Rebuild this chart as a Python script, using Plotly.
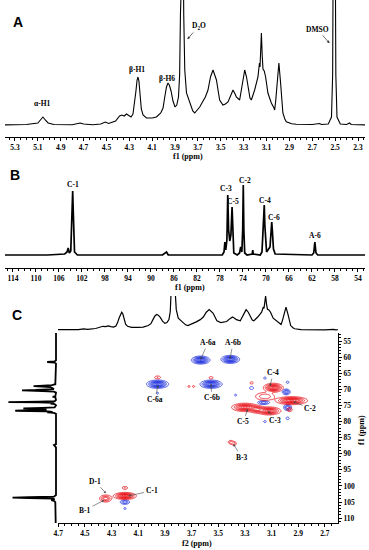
import numpy as np
import plotly.graph_objects as go

W, H = 369, 550

# ---------------- Panel A : 1H NMR ----------------
h1_ppm = [5.43, 5.20, 5.10, 5.075, 5.055, 5.035, 5.01, 4.96, 4.80, 4.73, 4.70, 4.62, 4.55, 4.51, 4.48,
          4.42, 4.385, 4.365, 4.345, 4.325, 4.305, 4.285, 4.268, 4.255, 4.243, 4.232, 4.224, 4.216,
          4.206, 4.195, 4.18, 4.15, 4.10, 4.063, 4.025, 4.005, 3.99, 3.975, 3.962, 3.950, 3.935,
          3.918, 3.90, 3.885, 3.87, 3.86, 3.853, 3.848, 3.830, 3.824, 3.815, 3.80, 3.772, 3.745,
          3.728, 3.705, 3.684, 3.665, 3.655, 3.635, 3.612, 3.59, 3.568, 3.55, 3.538, 3.52, 3.51,
          3.481, 3.46, 3.437, 3.415, 3.393, 3.375, 3.364, 3.335, 3.31, 3.291, 3.275, 3.262, 3.245,
          3.233, 3.204, 3.175, 3.168, 3.162, 3.157, 3.150, 3.145, 3.138, 3.131, 3.12, 3.108, 3.088,
          3.058, 3.035, 3.029, 3.02, 3.009, 2.992, 2.977, 2.965, 2.957, 2.94, 2.927, 2.88, 2.84,
          2.70, 2.636, 2.62, 2.56, 2.532, 2.522, 2.516, 2.500, 2.494, 2.484, 2.455, 2.40, 2.374,
          2.36, 2.20]
h1_int = [0, 0.5, 2, 5, 8, 5, 2, 0.5, 0.3, 2, 1, 0.3, 1, 3, 1.5,
          4, 9, 10, 9, 11, 9, 8, 11, 20, 33, 45, 48, 44,
          30, 16, 10, 7, 7, 8, 12, 17, 28, 38, 42, 40, 34,
          24, 18, 20, 28, 50, 110, 200, 200, 110, 55, 32, 22, 14,
          12, 15, 18, 22, 24, 28, 35, 48, 55, 50, 45, 32, 25,
          20, 21, 23, 30, 35, 31, 28, 25, 40, 55, 48, 37, 27,
          25, 35, 48, 60, 62, 58, 75, 92, 70, 56, 54, 48, 32,
          22, 17, 15, 24, 42, 62, 42, 25, 12, 6, 3.3, 1.2, 0.7,
          0.5, 1.5, 0.5, 1, 8, 50, 200, 200, 50, 8, 1, 0.5, 2,
          0.5, 0]
a_ticks = [5.3, 5.1, 4.9, 4.7, 4.5, 4.3, 4.1, 3.9, 3.7, 3.5, 3.3, 3.1, 2.9, 2.7, 2.5, 2.3]
a_lab_text = ["α-H1", "β-H1", "β-H6", "D<sub>2</sub>O", "DMSO"]
a_lab_x = [5.055, 4.235, 3.973, 3.693, 2.654]
a_lab_y = [22, 56, 47, 99, 95.7]
a_arr_x = [None, None, None, 3.792, 2.549]
a_arr_y = [None, None, None, 85.7, 81.7]

# ---------------- Panel B : 13C NMR ----------------
c13_ppm = [116.5, 108, 105.0, 104.6, 104.4, 104.2, 103.95, 103.75, 103.62, 103.5, 103.3, 102.8,
           95, 88, 87.3, 87.0, 80, 77.6, 77.3, 77.15, 77.0, 76.8, 76.65, 76.5, 76.3, 76.1, 75.9,
           75.75, 75.6, 75.0, 74.6, 74.4, 74.2, 74.05, 73.95, 73.85, 73.7, 73.3, 72.4, 72.3, 72.2,
           71.0, 70.7, 70.55, 70.4, 70.3, 70.2, 70.05, 69.9, 69.3, 69.1, 69.0, 68.9, 68.7, 68.4,
           62.0, 61.7, 61.5, 61.3, 61.0, 52]
c13_int = [0, 0, 1, 3, 7, 2, 4, 40, 64, 40, 3, 0,
           0, 0, 3, 0, 0, 0, 3, 13, 5, 15, 60, 25, 14, 20, 48,
           20, 2, 0, 2, 8, 3, 25, 70, 25, 2, 0, 1, 5, 1,
           0, 3, 20, 38, 50, 30, 8, 3, 8, 30, 33, 25, 6, 1,
           0, 2, 13, 2, 0, 0]
b_ticks = [114, 110, 106, 102, 98, 94, 90, 86, 82, 78, 74, 70, 66, 62, 58, 54]
b_lab_text = ["C-1", "C-3", "C-5", "C-2", "C-4", "C-6", "A-6"]
b_lab_x = [103.62, 76.96, 75.69, 73.65, 70.17, 68.61, 61.48]
b_lab_y = [71, 66.7, 53.3, 74.3, 54.3, 37.7, 20]

# ---------------- Panel C : HSQC cross peaks (f2, f1, half-widths, amplitude) ----------------
pos_f2 = [4.20, 4.345, 4.20, 3.087, 2.95, 3.30, 3.12, 3.21, 3.15, 3.25, 2.965, 3.955, 3.554, 3.72, 3.685, 3.407, 3.382]
pos_f1 = [103.1, 103.9, 100.6, 69.5, 73.5, 75.6, 76.7, 76.2, 72.2, 68.0, 76.3, 66.3, 66.4, 69.1, 69.1, 86.4, 86.8]
pos_w2 = [0.086, 0.045, 0.02, 0.075, 0.12, 0.10, 0.09, 0.06, 0.07, 0.012, 0.02, 0.022, 0.015, 0.008, 0.008, 0.018, 0.018]
pos_w1 = [1.1, 1.1, 0.45, 1.4, 1.25, 1.3, 1.25, 1.1, 1.2, 0.35, 0.6, 0.45, 0.35, 0.3, 0.3, 0.55, 0.55]
pos_amp = [1.0, 0.5, 0.2, 1.0, 1.0, 0.9, 0.9, 0.6, 0.3, 0.15, 0.25, 0.2, 0.15, 0.12, 0.12, 0.25, 0.25]

neg_f2 = [3.632, 3.41, 3.955, 3.554, 4.20, 4.20, 3.955, 3.16, 2.99, 2.98, 3.15, 2.98, 3.25, 2.98, 3.15, 3.37]
neg_f1 = [60.9, 60.7, 68.4, 68.4, 105.0, 107.0, 71.2, 74.1, 70.8, 75.6, 66.5, 67.8, 69.6, 79.0, 80.0, 71.8]
neg_w2 = [0.07, 0.07, 0.083, 0.083, 0.035, 0.008, 0.008, 0.045, 0.03, 0.03, 0.01, 0.01, 0.015, 0.012, 0.01, 0.008]
neg_w1 = [1.25, 1.25, 1.3, 1.3, 0.7, 0.3, 0.3, 0.6, 0.9, 1.0, 0.3, 0.35, 0.45, 0.4, 0.3, 0.3]
neg_amp = [1.0, 1.0, 1.0, 1.0, 0.4, 0.12, 0.12, 0.4, 0.5, 0.5, 0.12, 0.15, 0.15, 0.15, 0.12, 0.12]

c_lab_text = ["A-6a", "A-6b", "C-6a", "C-6b", "C-4", "C-2", "C-5", "C-3", "B-3", "D-1", "B-1", "C-1"]
c_lab_x = [3.577, 3.39, 3.975, 3.549, 3.087, 2.812, 3.312, 3.075, 3.324, 4.425, 4.50, 4.0]
c_lab_y = [55.5, 55.6, 73.3, 72.6, 64.8, 75.9, 80.06, 79.8, 91.1, 98.5, 107.5, 101.5]
c_pk_x = [3.632, 3.412, 3.952, 3.554, 3.112, 2.937, 3.279, 3.125, 3.387, 4.342, 4.355, 4.175]
c_pk_y = [60.7, 60.6, 68.7, 68.35, 69.0, 73.85, 76.1, 76.7, 87.0, 102.3, 104.4, 103.1]
c_f2_ticks = [4.7, 4.5, 4.3, 4.1, 3.9, 3.7, 3.5, 3.3, 3.1, 2.9, 2.7]
c_f1_ticks = [55, 60, 65, 70, 75, 80, 85, 90, 95, 100, 105, 110]

# ---------------- helpers ----------------
def fx(px):
    return px / W


def fy(py):
    return 1 - py / H


LBL = dict(family="Liberation Serif", size=7.5, color="black", weight="bold")
TICKF = dict(family="Liberation Serif", size=7.5, color="black", weight="bold")

fig = go.Figure()

# Panel A spectrum
fig.add_trace(go.Scatter(x=h1_ppm, y=h1_int, mode="lines", line=dict(color="black", width=1.1),
                         xaxis="x", yaxis="y", hoverinfo="skip", showlegend=False))
# Panel B spectrum
fig.add_trace(go.Scatter(x=c13_ppm, y=c13_int, mode="lines", line=dict(color="black", width=1.7),
                         xaxis="x2", yaxis="y2", hoverinfo="skip", showlegend=False))

# HSQC contours
f2g = np.arange(2.58, 4.72, 0.005)
f1g = np.arange(52.0, 112.0, 0.15)
X, Y = np.meshgrid(f2g, f1g)
L0 = 0.08


def field(f2s, f1s, w2s, w1s, amps):
    z = np.zeros_like(X)
    for a, b, w2, w1, amp in zip(f2s, f1s, w2s, w1s, amps):
        k = np.sqrt(2 * np.log(amp / L0))
        s2, s1 = w2 / k, w1 / k
        z += amp * np.exp(-0.5 * (((X - a) / s2) ** 2 + ((Y - b) / s1) ** 2))
    return z.astype(np.float32)


for zz, col in [(field(neg_f2, neg_f1, neg_w2, neg_w1, neg_amp), "#2233dd"),
                (field(pos_f2, pos_f1, pos_w2, pos_w1, pos_amp), "#e8141c")]:
    fig.add_trace(go.Contour(x=f2g.astype(np.float32), y=f1g.astype(np.float32), z=zz,
                             contours=dict(start=L0, end=1.3, size=0.11, coloring="lines"),
                             line=dict(width=0.8, smoothing=1.0),
                             colorscale=[[0, col], [1, col]], showscale=False,
                             xaxis="x3", yaxis="y3", hoverinfo="skip"))

# top projection (1H)
fig.add_trace(go.Scatter(x=h1_ppm, y=h1_int, mode="lines", line=dict(color="black", width=1.2),
                         xaxis="x4", yaxis="y4", hoverinfo="skip", showlegend=False))
# left projection (13C)
fig.add_trace(go.Scatter(x=c13_int, y=c13_ppm, mode="lines", line=dict(color="black", width=1.8),
                         xaxis="x5", yaxis="y5", hoverinfo="skip", showlegend=False))

hidden = dict(visible=False, automargin=False)
axis_common = dict(showline=True, linecolor="black", linewidth=1, ticks="outside", ticklen=3,
                   tickwidth=0.8, tickcolor="black", tickfont=TICKF, showgrid=False, zeroline=False,
                   automargin=False)

fig.update_layout(
    template="none",
    width=W, height=H, margin=dict(l=0, r=0, t=0, b=0, pad=0), autosize=False,
    paper_bgcolor="white", plot_bgcolor="white", showlegend=False,
    xaxis=dict(domain=[fx(5), fx(365)], range=[5.387, 2.239], anchor="y",
               tickmode="array", tickvals=a_ticks, ticktext=[f"{v:.1f}" for v in a_ticks],
               minor=dict(tick0=0, dtick=0.05, ticks="outside", ticklen=2, tickcolor="black"),
               **axis_common),
    yaxis=dict(domain=[fy(137), fy(0)], range=[-12, 125], anchor="x", **hidden),
    xaxis2=dict(domain=[fx(5), fx(365)], range=[115.39, 52.78], anchor="y2",
                tickmode="array", tickvals=b_ticks, ticktext=[str(v) for v in b_ticks],
                minor=dict(tick0=0, dtick=1, ticks="outside", ticklen=2, tickcolor="black"),
                **axis_common),
    yaxis2=dict(domain=[fy(268), fy(160)], range=[-13, 95], anchor="x2", **hidden),
    xaxis3=dict(domain=[fx(58), fx(338)], range=[4.702, 2.602], anchor="y3",
                tickmode="array", tickvals=c_f2_ticks, ticktext=[f"{v:.1f}" for v in c_f2_ticks],
                minor=dict(tick0=0, dtick=0.05, ticks="outside", ticklen=2, tickcolor="black"),
                **axis_common),
    yaxis3=dict(domain=[fy(523), fy(333)], range=[111.5, 52.5], anchor="x3", side="right",
                tickmode="array", tickvals=c_f1_ticks, ticktext=[str(v) for v in c_f1_ticks],
                minor=dict(tick0=0, dtick=1, ticks="outside", ticklen=1.5, tickcolor="black"),
                **axis_common),
    xaxis4=dict(domain=[fx(58), fx(338)], range=[4.702, 2.602], anchor="y4", **hidden),
    yaxis4=dict(domain=[fy(333), fy(296)], range=[-8.1, 91.9], anchor="x4", **hidden),
    xaxis5=dict(domain=[fx(5), fx(58)], range=[75, -2.94], anchor="y5", **hidden),
    yaxis5=dict(domain=[fy(523), fy(333)], range=[111.5, 52.5], anchor="x5", **hidden),
)

ann = []
# panel letters
for t, px, py in [("A", 18, 22), ("B", 15, 175), ("C", 17, 315)]:
    ann.append(dict(text=t, x=fx(px), y=fy(py), xref="paper", yref="paper", showarrow=False,
                    xanchor="center", yanchor="middle",
                    font=dict(family="Liberation Sans", size=14, color="black", weight="bold")))
# axis titles
for t, px, py, ang in [("f1 (ppm)", 188, 157, 0), ("f1 (ppm)", 190, 287, 0),
                       ("f2 (ppm)", 197, 543, 0), ("f1 (ppm)", 361, 430, -90)]:
    ann.append(dict(text=t, x=fx(px), y=fy(py), xref="paper", yref="paper", showarrow=False,
                    xanchor="center", yanchor="middle", textangle=ang,
                    font=dict(family="Liberation Serif", size=8, color="black", weight="bold")))
# panel A labels
for t, x, y, hx, hy in zip(a_lab_text, a_lab_x, a_lab_y, a_arr_x, a_arr_y):
    if hx is None:
        ann.append(dict(text=t, x=x, y=y, xref="x", yref="y", showarrow=False, font=LBL))
    else:
        ann.append(dict(text=t, x=hx, y=hy, ax=x, ay=y, xref="x", yref="y", axref="x", ayref="y",
                        showarrow=True, arrowhead=2, arrowsize=0.8, arrowwidth=0.7, arrowcolor="#333",
                        font=LBL, standoff=0))
# panel B labels
for t, x, y in zip(b_lab_text, b_lab_x, b_lab_y):
    ann.append(dict(text=t, x=x, y=y, xref="x2", yref="y2", showarrow=False, font=LBL))
# panel C labels
for t, x, y, hx, hy in zip(c_lab_text, c_lab_x, c_lab_y, c_pk_x, c_pk_y):
    ann.append(dict(text=t, x=hx, y=hy, ax=x, ay=y, xref="x3", yref="y3", axref="x3", ayref="y3",
                    showarrow=True, arrowhead=2, arrowsize=0.8, arrowwidth=0.6, arrowcolor="#444",
                    font=LBL))
fig.update_layout(annotations=ann)

fig.write_html("out.html", config={"displayModeBar": False},
               post_script="document.body.style.margin='0';document.body.style.padding='0';")
